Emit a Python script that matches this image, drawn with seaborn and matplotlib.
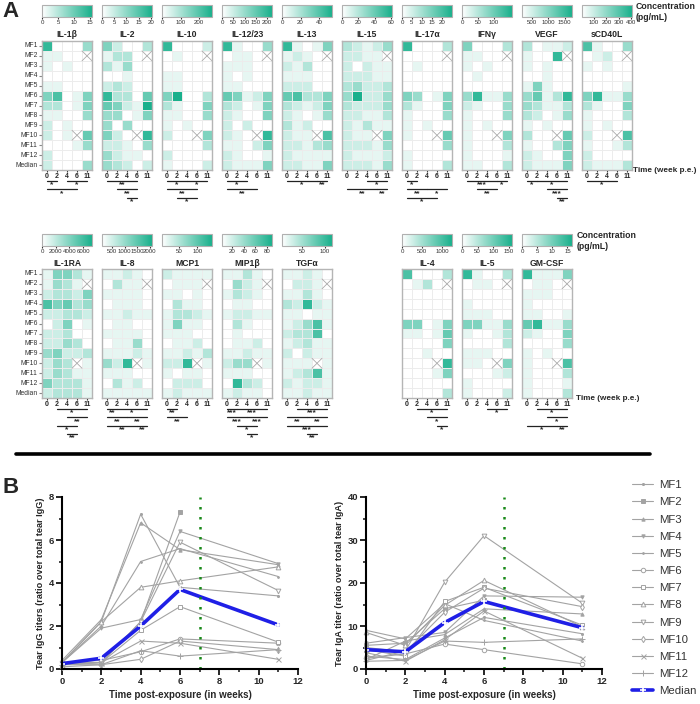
import numpy as np
import pandas as pd
import seaborn as sns
import matplotlib.pyplot as plt
from matplotlib.colors import LinearSegmentedColormap
from matplotlib.lines import Line2D
from matplotlib.transforms import blended_transform_factory
from matplotlib.ticker import MultipleLocator

sns.set_style('white')
plt.rcParams['font.family'] = ['Liberation Sans', 'DejaVu Sans']

# ---- panel A data: colour level 0-9 per cell (rows MF1..MF12, Median; cols week 0,2,4,6,11), x = missing
animals = ['MF1', 'MF2', 'MF3', 'MF4', 'MF5', 'MF6', 'MF7', 'MF8', 'MF9', 'MF10', 'MF11', 'MF12', 'Median']
week_labels = ['0', '2', '4', '6', '11']

il1b = ['80004', '1100x', '10100', '00000', '11000', '57015', '33015', '11004', '20100', '201x6', '00014', '20000', '20004']
il2 = ['52003', '1330x', '31400', '00100', '23200', '83306', '65219', '44015', '40400', '520x8', '22104', '42110', '43202']
il10 = ['80002', '0100x', '00000', '11000', '11000', '59003', '31005', '11004', '10100', '200x5', '00003', '20000', '10002']
il1223 = ['81004', '0110x', '11100', '10100', '11000', '65125', '32015', '21005', '20200', '210x8', '11025', '21001', '21115']
il13 = ['81015', '1210x', '21300', '11100', '22200', '67335', '32125', '21014', '31200', '211x7', '22134', '21111', '22115']
il15 = ['32124', '2211x', '20211', '22211', '34223', '49224', '32224', '22113', '21311', '211x5', '22214', '21112', '22214']
il17 = ['80003', '0000x', '01000', '00000', '00000', '54015', '31005', '10004', '10100', '100x6', '00004', '10000', '10003']
ifng = ['50003', '1100x', '10100', '01000', '00000', '48114', '21004', '10004', '10100', '100x5', '10003', '10001', '11003']
vegf = ['30112', '1008x', '10100', '00100', '15100', '46138', '43113', '32014', '10100', '300x6', '10035', '21005', '21115']
scd40l = ['71004', '0120x', '10100', '00000', '00001', '58114', '31005', '10003', '10100', '200x7', '10013', '20000', '21113']
il1ra = ['15531', '1431x', '23325', '75634', '22332', '02501', '22300', '22430', '45223', '243x1', '24311', '53331', '23331']
il8 = ['11210', '0311x', '11110', '01110', '11211', '01100', '11110', '01140', '11121', '428x1', '11100', '03120', '11111']
mcp1 = ['21111', '0111x', '11010', '03110', '13321', '15110', '11100', '01120', '11213', '228x1', '10110', '02220', '12111']
mip1b = ['11310', '0421x', '13210', '01100', '12211', '03100', '01000', '01120', '11211', '244x1', '11100', '08320', '12110']
tgfa = ['11210', '0221x', '11310', '32821', '11011', '12471', '23370', '12311', '20211', '111x1', '12371', '21221', '11211']
il4 = ['70003', '0130x', '00000', '00000', '00000', '55015', '11016', '00005', '00100', '000x8', '00015', '00000', '00003']
il5 = ['81003', '0110x', '00000', '10000', '11100', '55114', '10013', '00003', '11100', '110x5', '00012', '10000', '10002']
gmcsf = ['81115', '0110x', '11100', '10000', '11001', '68114', '21005', '00004', '10100', '100x7', '10003', '10001', '10003']

# colourbar ranges (pg/mL) and ticks
ranges = {'IL-1β': (0, 15.5, [0, 5, 10, 15]), 'IL-2': (0, 20.5, [0, 5, 10, 15, 20]),
          'IL-10': (0, 270, [0, 100, 200]), 'IL-12/23': (0, 222, [0, 50, 100, 150, 200]),
          'IL-13': (0, 54, [0, 20, 40]), 'IL-15': (0, 61, [0, 20, 40, 60]),
          'IL-17α': (0, 25, [0, 5, 10, 15, 20]), 'IFNγ': (0, 156, [0, 50, 100]),
          'VEGF': (200, 1720, [500, 1000, 1500]), 'sCD40L': (5, 405, [100, 200, 300, 400]),
          'IL-1RA': (0, 7300, [0, 2000, 4000, 6000]), 'IL-8': (100, 2100, [500, 1000, 1500, 2000]),
          'MCP1': (3, 140, [50, 100]), 'MIP1β': (2, 89, [20, 40, 60, 80]),
          'TGFα': (7, 115, [50, 100]), 'IL-4': (0, 1250, [0, 500, 1000]),
          'IL-5': (0, 160, [0, 50, 100, 150]), 'GM-CSF': (0, 16.5, [0, 5, 10, 15])}

# significance brackets: (from col, to col, level, label)
sig = {'IL-1β': [(0, 1, 0, '*'), (2, 4, 0, '*'), (0, 3, 1, '*')],
       'IL-2': [(0, 3, 0, '**'), (1, 3, 1, '**'), (2, 3, 2, '*')],
       'IL-10': [(0, 2, 0, '*'), (2, 4, 0, '*'), (0, 3, 1, '**'), (1, 3, 2, '*')],
       'IL-12/23': [(0, 2, 0, '*'), (0, 3, 1, '**')],
       'IL-13': [(0, 3, 0, '*'), (3, 4, 0, '**')],
       'IL-15': [(2, 4, 0, '*'), (0, 3, 1, '**'), (3, 4, 1, '**')],
       'IL-17α': [(0, 1, 0, '*'), (0, 2, 1, '**'), (2, 4, 1, '*'), (0, 3, 2, '*')],
       'IFNγ': [(0, 3, 0, '***'), (3, 4, 0, '*'), (1, 3, 1, '**')],
       'VEGF': [(0, 1, 0, '*'), (1, 4, 0, '*'), (2, 4, 1, '***'), (3, 4, 2, '**')],
       'sCD40L': [(0, 3, 0, '*')],
       'IL-1RA': [(1, 4, 0, '*'), (2, 4, 1, '**'), (1, 3, 2, '*'), (2, 3, 3, '**')],
       'IL-8': [(0, 1, 0, '**'), (1, 4, 0, '*'), (0, 2, 1, '**'), (2, 4, 1, '**'), (0, 3, 2, '**'), (3, 4, 2, '**')],
       'MCP1': [(0, 1, 0, '**'), (0, 2, 1, '**')],
       'MIP1β': [(0, 1, 0, '***'), (1, 4, 0, '***'), (0, 2, 1, '***'), (2, 4, 1, '***'), (1, 3, 2, '*'), (2, 3, 3, '*')],
       'TGFα': [(1, 4, 0, '***'), (0, 2, 1, '**'), (2, 4, 1, '**'), (0, 4, 2, '***'), (2, 3, 3, '**')],
       'IL-4': [(1, 4, 0, '*'), (2, 4, 1, '*'), (3, 4, 2, '*')],
       'IL-5': [(2, 4, 0, '*')],
       'GM-CSF': [(1, 4, 0, '*'), (2, 4, 1, '*'), (0, 3, 2, '*'), (3, 4, 2, '**')]}

top_row = [('IL-1β', il1b), ('IL-2', il2), ('IL-10', il10), ('IL-12/23', il1223), ('IL-13', il13),
           ('IL-15', il15), ('IL-17α', il17), ('IFNγ', ifng), ('VEGF', vegf), ('sCD40L', scd40l)]
bottom_row = [('IL-1RA', il1ra), ('IL-8', il8), ('MCP1', mcp1), ('MIP1β', mip1b), ('TGFα', tgfa),
              ('IL-4', il4), ('IL-5', il5), ('GM-CSF', gmcsf)]

# ---- panel B data
weeks = [0, 2, 4, 6, 11]
igg = {'MF1': [0.3, 2.2, 7.2, 3.8, 3.4], 'MF2': [0.2, 0.3, 2.2, 7.3, np.nan],
       'MF3': [0.4, 2.3, 6.8, 5.55, 4.85], 'MF4': [0.3, 1.9, 2.3, 6.4, 4.9],
       'MF5': [0.3, 2.0, 5.0, 5.6, 4.3], 'MF6': [0.3, 0.4, 0.8, 1.4, 1.2],
       'MF7': [0.2, 0.3, 1.8, 2.9, 1.25], 'MF8': [0.3, 2.2, 3.8, 4.1, 4.75],
       'MF9': [0.3, 0.3, 2.2, 5.9, 3.65], 'MF10': [0.1, 0.2, 0.45, 1.3, 0.9],
       'MF11': [0.2, 0.3, 1.3, 1.2, 0.45], 'MF12': [0.2, 0.2, 0.85, 0.6, 0.9],
       'Median': [0.25, 0.5, 2.0, 3.7, 2.05]}
iga = {'MF1': [3.0, 2.2, 7.2, 12.0, 8.2], 'MF2': [5.5, 6.0, 14.0, 16.0, np.nan],
       'MF3': [2.2, 6.5, 8.0, 14.0, 12.8], 'MF4': [6.0, 7.3, 8.5, 17.0, 16.7],
       'MF5': [9.0, 7.0, 15.2, 11.3, 6.5], 'MF6': [2.5, 3.5, 5.8, 4.5, 1.2],
       'MF7': [4.5, 3.0, 15.7, 19.0, 10.2], 'MF8': [8.5, 5.5, 14.8, 20.6, 9.8],
       'MF9': [2.0, 4.2, 20.2, 31.0, 15.3], 'MF10': [5.0, 4.0, 13.2, 18.8, 14.5],
       'MF11': [3.8, 1.8, 6.8, 13.5, 2.5], 'MF12': [1.8, 2.0, 6.5, 6.2, 7.0],
       'Median': [4.5, 4.0, 10.8, 15.7, 9.6]}

W, H = 700, 704
fig = plt.figure(figsize=(7, 7.04), dpi=100)


def rect(x, y, w, h):
    return [x / W, 1 - (y + h) / H, w / W, h / H]


cmap = LinearSegmentedColormap.from_list('teal', ['#ffffff', '#19b08c'])
bold = dict(fontweight='bold')


def draw_heat(name, levels, x, top, cb_top, first):
    vmin, vmax, ticks = ranges[name]
    vals = [[np.nan if c == 'x' else vmin + int(c) / 9 * (vmax - vmin) for c in row] for row in levels]
    df = pd.DataFrame(vals, index=animals, columns=week_labels)
    ax = fig.add_axes(rect(x, top, 50, 129))
    cax = fig.add_axes(rect(x, cb_top, 50, 12))
    sns.heatmap(df, ax=ax, cmap=cmap, vmin=vmin, vmax=vmax, linewidths=0.4, linecolor='#ececec',
                xticklabels=True, yticklabels=True,
                cbar_ax=cax, cbar_kws={'orientation': 'horizontal', 'ticks': ticks})
    cb = ax.collections[0].colorbar
    cb.outline.set_edgecolor('#b0b0b0')
    cb.outline.set_linewidth(0.8)
    cax.tick_params(labelsize=4.4, length=1.5, pad=1, colors='#333333')
    cax.text(0.5, -1.05, name, transform=cax.transAxes, ha='center', va='top', fontsize=6.2, **bold)
    for r, row in enumerate(levels):
        for c, ch in enumerate(row):
            if ch == 'x':
                ax.plot([c, c + 1], [r, r + 1], color='#aaaaaa', lw=0.6)
                ax.plot([c, c + 1], [r + 1, r], color='#aaaaaa', lw=0.6)
    for s in ax.spines.values():
        s.set_visible(True)
        s.set_edgecolor('#b5b5b5')
        s.set_linewidth(1)
    ax.set_xlabel('')
    ax.set_ylabel('')
    ax.set_xticks(np.arange(5) + 0.5, week_labels, rotation=0, fontsize=5, fontweight='bold')
    ax.tick_params(axis='x', length=1.5, pad=1, bottom=True)
    if first:
        ax.set_yticks(np.arange(13) + 0.5, animals, rotation=0, fontsize=4.9, color='#333333')
        ax.tick_params(axis='y', length=2, pad=1, left=True, color='#888888')
    else:
        ax.set_yticks([])
    tr = blended_transform_factory(ax.transData, fig.transFigure)
    for i, j, lev, lab in sig[name]:
        yy = 1 - (top + 129 + 11 + 8.3 * lev) / H
        ax.add_line(Line2D([i + 0.5, j + 0.5], [yy, yy], color='#222222', lw=0.9, transform=tr, clip_on=False))
        ax.text((i + j) / 2 + 0.5, yy - 0.6 / H, lab, transform=tr, ha='center', va='top', fontsize=6,
                fontweight='bold', clip_on=False)
    return ax


top_x = [42, 102, 162, 222, 282, 342, 402, 462, 522, 582]
for k, (name, lev) in enumerate(top_row):
    draw_heat(name, lev, top_x[k], 41, 5, k == 0)

bottom_x = [42, 102, 162, 222, 282, 402, 462, 522]
for k, (name, lev) in enumerate(bottom_row):
    draw_heat(name, lev, bottom_x[k], 269, 234, k == 0)

fig.text(636 / W, 1 - 12 / H, 'Concentration\n(pg/mL)', ha='left', va='center', fontsize=6.3,
         linespacing=1.15, **bold)
fig.text(577 / W, 1 - 241 / H, 'Concentration\n(pg/mL)', ha='left', va='center', fontsize=6.3,
         linespacing=1.15, **bold)
fig.text(633 / W, 1 - 171 / H, 'Time (week p.e.)', ha='left', va='center', fontsize=5.9, **bold)
fig.text(576 / W, 1 - 399 / H, 'Time (week p.e.)', ha='left', va='center', fontsize=5.9, **bold)

fig.add_artist(Line2D([16 / W, 650 / W], [1 - 454 / H] * 2, color='black', lw=2.6))
fig.text(2 / W, 1 - 1 / H, 'A', ha='left', va='top', fontsize=16, **bold)
fig.text(2 / W, 1 - 477 / H, 'B', ha='left', va='top', fontsize=16, **bold)

# ---- panel B
styles = {'MF1': ('.', 3, True), 'MF2': ('s', 2.2, True), 'MF3': ('^', 2.4, True), 'MF4': ('v', 2.4, True),
          'MF5': ('.', 2.5, True), 'MF6': ('o', 3.2, False), 'MF7': ('s', 3.2, False),
          'MF8': ('^', 3.4, False), 'MF9': ('v', 3.4, False), 'MF10': ('d', 3.2, False),
          'MF11': ('x', 3.6, False), 'MF12': ('+', 4, False)}
gray = '#a3a3a3'
blue = '#1f1fe6'


def draw_titers(ax, data, ymax, ystep, ylabel):
    for name, vals in data.items():
        if name == 'Median':
            continue
        m, ms, filled = styles[name]
        sns.lineplot(x=weeks, y=vals, ax=ax, color=gray, lw=0.8, marker=m, markersize=ms,
                     markerfacecolor=gray if filled else 'white', markeredgecolor=gray, markeredgewidth=0.7,
                     estimator=None, errorbar=None, label=name)
    sns.lineplot(x=weeks, y=data['Median'], ax=ax, color=blue, lw=2.6, marker='+', markersize=5,
                 markeredgewidth=1.2, estimator=None, errorbar=None, label='Median')
    ax.plot([7, 7], [0, ymax], color='#1a8a1a', lw=1.8, ls=(0, (1, 3)))
    ax.set_xlim(0, 12)
    ax.set_ylim(0, ymax)
    ax.xaxis.set_major_locator(MultipleLocator(2))
    ax.xaxis.set_minor_locator(MultipleLocator(1))
    ax.yaxis.set_major_locator(MultipleLocator(ystep))
    ax.yaxis.set_minor_locator(MultipleLocator(ystep / 2))
    for s in ['top', 'right']:
        ax.spines[s].set_visible(False)
    for s in ['left', 'bottom']:
        ax.spines[s].set_color('black')
        ax.spines[s].set_linewidth(1.5)
    ax.tick_params(which='major', direction='out', length=4, width=1.4, labelsize=6.8, pad=1.5,
                   left=True, bottom=True)
    ax.tick_params(which='minor', direction='out', length=2.5, width=1.2, left=True, bottom=True)
    for lab in ax.get_xticklabels() + ax.get_yticklabels():
        lab.set_fontweight('bold')
    ax.set_xlabel('Time post-exposure (in weeks)', fontsize=7, labelpad=3, **bold)
    ax.set_ylabel(ylabel, fontsize=6.6, labelpad=3, **bold)
    for ln in ax.lines:
        ln.set_clip_on(False)


ax1 = fig.add_axes(rect(62, 497, 236, 172))
ax2 = fig.add_axes(rect(366, 497, 236, 172))
draw_titers(ax1, igg, 8, 2, 'Tear IgG titers (ratio over total tear IgG)')
draw_titers(ax2, iga, 40, 10, 'Tear IgA titer (ratio over total tear IgA)')

handles, labels = ax2.get_legend_handles_labels()
ax1.get_legend().remove()
ax2.get_legend().remove()
fig.legend(handles, labels, loc='upper left', bbox_to_anchor=(622 / W, 1 - 470 / H), frameon=False,
           fontsize=8.2, labelspacing=0.63, handlelength=1.8, handletextpad=0.6, labelcolor='#333333')

fig.savefig('out.png', dpi=100)
